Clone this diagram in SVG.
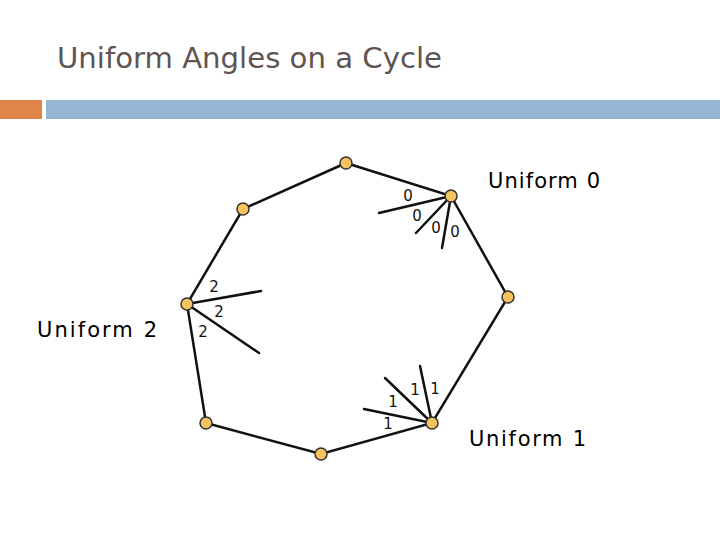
<svg xmlns="http://www.w3.org/2000/svg" width="720" height="540" viewBox="0 0 720 540">
<style>
.title{font-family:"DejaVu Sans","Liberation Sans",sans-serif;font-size:28px;fill:#5f5451}
.lab{font-family:"DejaVu Sans","Liberation Sans",sans-serif;font-size:21px;fill:#000}
.num{font-family:"DejaVu Sans","Liberation Sans",sans-serif;font-size:15px;fill:#111;text-anchor:middle;dominant-baseline:central}
.edge{stroke:#111;stroke-width:2.5;fill:none;stroke-linecap:round}
.node{fill:#F6C45E;stroke:#333;stroke-width:1.5}
</style>
<rect width="720" height="540" fill="#fff"/>
<text class="title" x="57" y="68" textLength="385" lengthAdjust="spacingAndGlyphs">Uniform Angles on a Cycle</text>
<rect x="0" y="100" width="42" height="19" fill="#E0844A"/>
<rect x="46" y="100" width="674" height="19" fill="#95B6D3"/>
<g id="connectors">
<polyline class="edge" points="346,163 451,196 508,297 432,423 321,454 206,423 187,304 243,209 346,163"/>
<line class="edge" x1="451" y1="196" x2="379" y2="213"/>
<line class="edge" x1="451" y1="196" x2="416" y2="233"/>
<line class="edge" x1="451" y1="196" x2="442" y2="248"/>
<line class="edge" x1="187" y1="304" x2="261" y2="291"/>
<line class="edge" x1="187" y1="304" x2="259" y2="353"/>
<line class="edge" x1="432" y1="423" x2="364" y2="409"/>
<line class="edge" x1="432" y1="423" x2="385" y2="378"/>
<line class="edge" x1="432" y1="423" x2="420" y2="366"/>
</g>
<g id="n-top"><circle class="node" cx="346" cy="163" r="6"/></g>
<g id="n-upperleft"><circle class="node" cx="243" cy="209" r="6"/></g>
<g id="n-topright"><circle class="node" cx="451" cy="196" r="6"/></g>
<g id="n-right"><circle class="node" cx="508" cy="297" r="6"/></g>
<g id="n-left"><circle class="node" cx="187" cy="304" r="6"/></g>
<g id="n-bottomright"><circle class="node" cx="432" cy="423" r="6"/></g>
<g id="n-bottomleft"><circle class="node" cx="206" cy="423" r="6"/></g>
<g id="n-bottom"><circle class="node" cx="321" cy="454" r="6"/></g>
<g id="labels0">
<text class="num" x="408" y="196">0</text>
<text class="num" x="417" y="216">0</text>
<text class="num" x="436" y="228">0</text>
<text class="num" x="455" y="232">0</text>
</g>
<g id="labels2">
<text class="num" x="214" y="287">2</text>
<text class="num" x="219" y="312">2</text>
<text class="num" x="203" y="332">2</text>
</g>
<g id="labels1">
<text class="num" x="388" y="424">1</text>
<text class="num" x="393" y="402">1</text>
<text class="num" x="415" y="390">1</text>
<text class="num" x="435" y="389">1</text>
</g>
<text class="lab" x="488" y="188" textLength="112" lengthAdjust="spacing">Uniform 0</text>
<text class="lab" x="37" y="337" textLength="120" lengthAdjust="spacing">Uniform 2</text>
<text class="lab" x="469" y="446" textLength="117" lengthAdjust="spacing">Uniform 1</text>
</svg>
